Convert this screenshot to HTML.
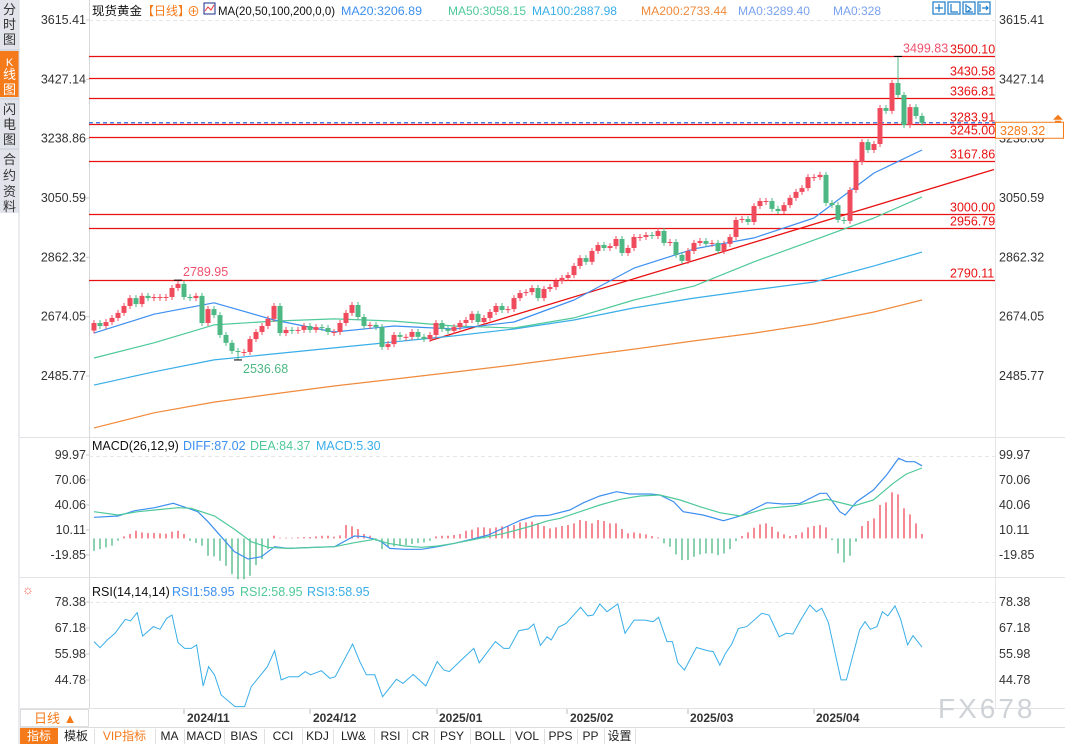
<!DOCTYPE html>
<html><head><meta charset="utf-8"><style>
html,body{margin:0;padding:0;background:#fff;}
body{width:1065px;height:744px;overflow:hidden;position:relative;font-family:"Liberation Sans","Noto Sans CJK SC",sans-serif;}
svg text{font-family:"Liberation Sans","Noto Sans CJK SC",sans-serif;}
.mono{font-family:"Liberation Mono","Noto Sans CJK SC",monospace;}
</style></head><body>
<svg id="chart" width="1065" height="744" xmlns="http://www.w3.org/2000/svg">
<g>
<rect x="0" y="0" width="19" height="213" fill="#e2e4ec"/>
<rect x="0" y="51" width="19" height="46" fill="#f57a1a"/>
<line x1="0" y1="50" x2="19" y2="50" stroke="#c9ccd6"/><line x1="0" y1="99" x2="19" y2="99" stroke="#c9ccd6"/><line x1="0" y1="149" x2="19" y2="149" stroke="#c9ccd6"/>
<line x1="19" y1="0" x2="19" y2="744" stroke="#d5d7de"/>
<g font-size="13" fill="#333" text-anchor="middle">
<text x="9.5" y="14">分</text><text x="9.5" y="29">时</text><text x="9.5" y="44">图</text>
<text x="9.5" y="66" fill="#fff" font-size="11">K</text><text x="9.5" y="79" fill="#fff">线</text><text x="9.5" y="94" fill="#fff">图</text>
<text x="9.5" y="114">闪</text><text x="9.5" y="129">电</text><text x="9.5" y="144">图</text>
<text x="9.5" y="164">合</text><text x="9.5" y="180">约</text><text x="9.5" y="196">资</text><text x="9.5" y="211">料</text>
</g></g>
<line x1="89.5" y1="0" x2="89.5" y2="708" stroke="#d8d8d8"/>
<line x1="995.5" y1="0" x2="995.5" y2="708" stroke="#e6e6e6"/>
<line x1="20" y1="437.5" x2="1065" y2="437.5" stroke="#e2e2e2"/>
<line x1="20" y1="577.5" x2="1065" y2="577.5" stroke="#e2e2e2"/>
<line x1="20" y1="708.5" x2="1065" y2="708.5" stroke="#e2e2e2"/>
<line x1="89" y1="20.5" x2="995" y2="20.5" stroke="#e6e6e6" stroke-dasharray="4,3"/>
<line x1="89" y1="456.5" x2="995" y2="456.5" stroke="#e6e6e6" stroke-dasharray="4,3"/>
<line x1="89" y1="602.5" x2="995" y2="602.5" stroke="#e6e6e6" stroke-dasharray="4,3"/>
<g font-size="12">
<text x="92" y="15" fill="#111" textLength="50" lengthAdjust="spacingAndGlyphs">现货黄金</text>
<text x="142" y="15" fill="#f57a1a">【日线】</text>
<text x="187" y="16" fill="#f57a1a" font-size="13">⊕</text>
<rect x="204" y="3" width="11" height="11" fill="#fff" stroke="#1a2a8a"/>
<polyline points="205,11 208,7 211,10 214,5" fill="none" stroke="#e33" stroke-width="1"/>
<text x="218" y="15" fill="#111" textLength="117" lengthAdjust="spacingAndGlyphs">MA(20,50,100,200,0,0)</text>
<text x="341" y="15" fill="#3d8ff0" textLength="81" lengthAdjust="spacingAndGlyphs">MA20:3206.89</text>
<text x="448" y="15" fill="#4fc99a" textLength="78" lengthAdjust="spacingAndGlyphs">MA50:3058.15</text>
<text x="532" y="15" fill="#39aee8" textLength="85" lengthAdjust="spacingAndGlyphs">MA100:2887.98</text>
<text x="641" y="15" fill="#f08a3c" textLength="86" lengthAdjust="spacingAndGlyphs">MA200:2733.44</text>
<text x="738" y="15" fill="#7aa2ef" textLength="72" lengthAdjust="spacingAndGlyphs">MA0:3289.40</text>
<text x="833" y="15" fill="#7aa2ef">MA0:328</text>
</g>
<g fill="none" stroke="#1d7cc8" stroke-width="1.2">
<rect x="933" y="2" width="12" height="12"/><rect x="948" y="2" width="12" height="12"/><rect x="963" y="2" width="12" height="12"/><rect x="978" y="2" width="12" height="12"/>
<path d="M939 4v8M935 8h8M951 4v8h7M966 4v8h7M967 6l4 3-4 3M980 4v8M982 8h6M986 6l2 2-2 2"/>
</g>
<g id="axes" font-size="12.5" fill="#333"></g>
<g id="levels"></g>
<g id="mas"></g>
<g id="candles"></g>
<g id="macd"></g>
<g id="rsi"></g>
<g font-size="12.5">
<text x="92" y="450" fill="#111">MACD(26,12,9)</text>
<text x="183" y="450" fill="#3d8ff0">DIFF:87.02</text>
<text x="250" y="450" fill="#4fc99a">DEA:84.37</text>
<text x="316" y="450" fill="#39aee8">MACD:5.30</text>
</g>
<text x="22" y="594" font-size="13" fill="#e65">☼</text>
<g font-size="12.5">
<text x="92" y="596" fill="#111">RSI(14,14,14)</text>
<text x="172" y="596" fill="#3d8ff0">RSI1:58.95</text>
<text x="240" y="596" fill="#4fc99a">RSI2:58.95</text>
<text x="307" y="596" fill="#39aee8">RSI3:58.95</text>
</g>
<g font-size="12" font-weight="bold" fill="#333">
<rect x="20.5" y="709.5" width="68" height="17" fill="#fff" stroke="#ddd"/>
<text x="34" y="723" fill="#f57a1a" font-weight="normal" font-size="13">日线 ▲</text>
<text x="187" y="722">2024/11</text><text x="313" y="722">2024/12</text><text x="439" y="722">2025/01</text>
<text x="570" y="722">2025/02</text><text x="690" y="722">2025/03</text><text x="816" y="722">2025/04</text>
<path d="M184 709v5M310 709v5M437 709v5M567 709v5M688 709v5M814 709v5" stroke="#bbb"/>
</g>
<text x="938" y="718" font-size="28" fill="#cfd3d8" letter-spacing="3">FX678</text>
<g font-size="11" class="mono">
<rect x="20" y="727" width="1045" height="17" fill="#fff"/>
<line x1="20" y1="727.5" x2="1065" y2="727.5" stroke="#ddd"/>
<rect x="20" y="728" width="38" height="16" fill="#f57a1a"/>
<text x="27" y="740" fill="#fff" font-size="12">指标</text>
<g id="tools" fill="#222"></g>
</g>
</svg>
<script>
const closes=[2654,2644.5,2657,2670,2686,2708,2733,2714,2740,2733,2736.5,2736.5,2736.5,2765,2778,2736.5,2733,2740,2654,2698,2679,2616,2591,2565,2562,2562,2603,2625.5,2644.5,2667,2708,2622,2632,2629,2632,2644.5,2632,2641,2638,2625.5,2625.5,2654,2686,2711,2673,2644.5,2648,2641,2578,2587,2616,2610,2610,2625.5,2610,2603,2616,2654,2635,2629,2641,2654,2663.5,2683,2657,2670,2689,2708,2695,2698,2733,2749,2752,2765,2733,2762,2768,2787,2797,2806,2835,2860,2848,2882.5,2901.5,2892,2898,2920.6,2876,2892,2927,2927,2933,2930,2946,2908,2911,2870,2851,2882.5,2908,2914,2905,2908,2882.5,2905,2927,2981,2984,2974.5,3025,3041,3041,3016,3009,3028,3051,3070,3082,3117,3117,3124,3035,3028,2981,2978,3076,3165,3228,3203,3222,3336,3327,3415.5,3377.5,3282,3339,3311,3289.32];
const opens0=2630;
const highMark=[134,3499.83], lowMark=[24,2536.68], peakMark=[14,2789.95];
const maIdx=[0,10,20,30,40,50,60,70,80,90,100,110,120,130,138];
const ma20=[2622,2682,2718,2663.5,2625.5,2644.5,2635,2657,2727,2828,2889,2924,2987,3130,3203];
const ma50=[2543,2591,2648,2660,2667,2660,2644.5,2638,2670,2727,2771,2848,2917,2987,3054];
const ma100=[2457,2499,2537,2556,2575,2594,2613,2635,2663.5,2702,2733,2759,2784,2835,2879];
const ma200=[2321,2369,2403,2429,2454,2476,2498,2521,2546,2571,2597,2622,2651,2689,2727];
const levels=[3500.10,3430.58,3366.81,3283.91,3245.00,3167.86,3000.00,2956.79,2790.11];
const levelLabels=["3500.10","3430.58","3366.81","3283.91","3245.00","3167.86","3000.00","2956.79","2790.11"];
const priceTicks=[3615.41,3427.14,3238.86,3050.59,2862.32,2674.05,2485.77];
const trendIdx=[56,150], trendVal=[2598,3141];
const hist=[-14.8,-12.8,-10.8,-8.8,-2.8,2.4,5.2,9.2,7.2,6.4,6.4,6,5.6,8,9.2,5.2,-2.8,-5.6,-8.8,-20.8,-21.6,-26.8,-32.8,-42.8,-48.8,-48.8,-44.8,-32,-24.8,-12.8,3.2,0.8,0.8,0.8,1.2,1.6,1.6,2.4,3.2,3.2,2,3.6,16,14.4,11.2,5.2,3.2,-2.8,-12.8,-10.8,-9.6,-8.8,-8,-6.8,-5.6,-4.8,-2.8,2.4,3.2,3.2,4,5.2,9.2,10.4,13.2,13.2,12,13.2,14.4,15.2,16,19.2,19.2,20,18.4,14.8,12,13.2,14.8,16,18,22,20.8,18,22,20.8,18,18,11.2,6,7.2,6,4.8,2.8,1.2,-6,-10,-19.2,-26,-26,-22,-19.2,-18,-18,-20,-18,-12.8,-3.2,2.8,7.2,12.8,16.8,18,14,8,4.8,2.8,4,7.2,13.2,14.8,16,13.2,-2,-18,-28.8,-20.8,-4,14.8,20.8,24,40,43.2,55.2,52.8,36,28.8,18,5.3];
const diffIdx=[0,4,6.8,10.1,13.2,15.7,17.3,19,21.2,23.4,25.7,27.9,30.1,32.3,36.8,40.1,43.4,45.1,46.8,47.9,49.3,51.8,54.6,57.3,60.1,62.9,65.7,69,71.2,73.4,75.7,79.3,81.6,84.3,87.1,89.3,92.7,94.3,96.6,98.2,101.5,104.9,107.7,112.1,114.9,117.7,121,122.1,124.3,125.2,127.1,129.9,132.1,134.1,135.4,136.8,138];
const diffVal=[25.3,26.8,33.2,36.8,42,36,32,20,2,-15.9,-24.7,-21.9,-9.9,-12,-10.7,-9.9,2.9,2,-1.1,-4,-12,-13.1,-13.1,-9.9,-5.9,-1.1,4.1,14.9,22,26.8,27.6,34,42.8,50.8,56,53.2,53.2,52,44,32,28,21.2,26.8,42.8,41.2,42,54,54,32,28,44,58,76,96,91.9,91.9,87.02];
const deaIdx=[0,4,7.3,10.1,14,16.2,20.1,23.4,26.2,29,32.3,40.1,43.4,46.8,49,51.8,54.6,57.3,60.1,62.9,68.4,72.9,75.7,77.7,81,84.3,87.7,91,94.3,97.7,101,104.3,107.7,112.1,116.5,122.1,126.6,129.9,133.2,135.4,138];
const deaVal=[32,28,32,34,36.8,36,26.8,10.9,-4,-10.7,-12,-9.9,-5.1,-1.1,-5.9,-9.1,-10.7,-9.1,-5.9,-1.9,6.1,14.9,21.2,24.1,32,40,46.8,50.8,52,46,38,30.8,26.8,36,38.8,46.8,38.8,46,66,77.2,84.37];
const macdTicks=[99.97,70.06,40.06,10.11,-19.85];
const rsiIdx=[0,1,2.2,3.5,5.2,6.1,7.2,8.1,9.9,11,12.1,13,14,15.1,16.2,17.1,18.2,19.1,20.1,21.2,23.5,25.1,26.2,28.9,30.1,31.2,32.5,34.1,35.2,36.1,37.9,39.3,40.2,43.1,44.3,45.4,46.8,48.1,50.4,51.5,53.2,55.3,57.2,58.3,59.2,61.5,63.3,64.2,66.9,68.3,69.2,70.8,72.4,73.3,74.4,75.5,76.2,77.4,78.7,81.1,82.3,83.2,84.3,85.5,87.3,88.5,90,91.8,93.2,94.1,95.5,96.4,97.3,98.4,100.4,102.3,103.2,104.3,105.2,106.3,107.4,108.8,111.3,112.5,114.2,115.4,116.5,117.7,119.3,120.4,121.3,122.4,124.5,125.4,127.6,128.5,129.4,130.5,131.4,132.3,133.5,134.4,135.6,136.5,138];
const rsiVal=[61.3,58.7,62,64.9,70.9,70.3,73.8,63.7,67.8,66.6,71.3,72.8,60.9,58.4,58.4,59.9,42.2,50.5,46.9,38.3,33.3,33.3,41.9,50.5,57.4,44.8,46.2,46.2,48.4,47,48.8,45.5,46.2,60.3,52.7,47,47,37.6,45.1,43.3,47.2,42.2,52.7,49.1,48.4,54.1,58.4,52.2,61.3,58.4,58.4,66,66.8,68.9,59.7,63.4,62,67.5,69.2,76.1,72.4,72.8,77.5,74.2,77.5,64.9,70.6,70.6,69.9,71.8,61.3,61.3,52.2,49.1,58.8,57.4,57,51.2,56,60.3,67,67.8,73.5,72.8,63.4,64.9,64.6,70.3,77.1,74.2,75.7,69.5,44.8,44.8,66.3,69.9,66.6,67.8,74.2,72.4,76.7,71.3,59.9,63.9,58.95];
const rsiTicks=[78.38,67.18,55.98,44.78];
const tools=["模板","VIP指标","MA","MACD","BIAS","CCI","KDJ","LW&","RSI","CR","PSY","BOLL","VOL","PPS","PP","设置"];

const NS="http://www.w3.org/2000/svg";
const xS=i=>94+6*i;
const yP=v=>20+(3615.41-v)*356/1129.64;
const yM=v=>538.4-v/1.198;
const yR=v=>602+(78.38-v)/0.4308;
function mk(tag,attrs,parent){const e=document.createElementNS(NS,tag);for(const k in attrs)e.setAttribute(k,attrs[k]);parent.appendChild(e);return e;}
const axes=document.getElementById('axes');
function tickLabels(ticks,yf,name){ticks.forEach(t=>{
 const l=mk('text',{x:86,y:yf(t)+4,'text-anchor':'end'},axes);l.textContent=t.toFixed(2);
 
 
 const r=mk('text',{x:999,y:yf(t)+4},axes);r.textContent=t.toFixed(2);
 
 
 mk('line',{x1:86,x2:90,y1:yf(t),y2:yf(t),stroke:'#ccc'},axes);
});}
tickLabels(priceTicks,yP,'price');tickLabels(macdTicks,yM,'macd');tickLabels(rsiTicks,yR,'rsi');

const lv=document.getElementById('levels');
levels.forEach((v,k)=>{const y=Math.round(yP(v))+0.5;
 const ln=mk('line',{x1:89,x2:995,y1:y,y2:y,stroke:'#e81010','stroke-width':1.2},lv);
 
 
 const t=mk('text',{x:950,y:y-3,fill:'#e81010','font-size':12.5},lv);t.textContent=levelLabels[k];
 
 
});
const cur=closes[closes.length-1];
const cy=yP(cur);
const cl=mk('line',{x1:89,x2:995,y1:cy,y2:cy,stroke:'#2a6fe0','stroke-dasharray':'4,3','stroke-width':1.3},lv);


const cb=mk('rect',{x:995.5,y:cy-0.5,width:68,height:16,fill:'#fff',stroke:'#f57a1a'},lv);


const ct=mk('text',{x:1000,y:cy+12,fill:'#f57a1a','font-size':12.5},lv);ct.textContent=cur.toFixed(2);
mk('path',{d:`M1053 ${cy-3}l5-5 5 5z M1055 ${cy-2}h6v2h-6z`,fill:'#f57a1a'},lv);
const tl=mk('line',{x1:xS(trendIdx[0]),y1:yP(trendVal[0]),x2:xS(trendIdx[1]),y2:yP(trendVal[1]),stroke:'#e81010','stroke-width':1.3},lv);



const mg=document.getElementById('mas');
[[ma200,'#f08a3c','ma200-line'],[ma100,'#39aee8','ma100-line'],[ma50,'#4fc99a','ma50-line'],[ma20,'#3d8ff0','ma20-line']].forEach(([arr,c,n])=>{
 const p=mk('polyline',{points:arr.map((v,k)=>xS(maIdx[k])+','+yP(v).toFixed(1)).join(' '),fill:'none',stroke:c,'stroke-width':1.2,'stroke-linejoin':'round'},mg);
 
 
});

const cg=document.getElementById('candles');
closes.forEach((c,i)=>{
 const o=i===0?opens0:closes[i-1];
 const up=c>=o;const col=up?'#ef4b5c':'#4db884';
 const x=xS(i);let top=yP(Math.max(o,c)),bot=yP(Math.min(o,c));
 if(bot-top<1){bot=top+1;}
 let hi=top-3,lo=bot+3;
 if(i===highMark[0])hi=yP(highMark[1]);
 if(i===lowMark[0])lo=yP(lowMark[1]);
 if(i===peakMark[0])hi=yP(peakMark[1]);
 mk('line',{x1:x,x2:x,y1:hi,y2:lo,stroke:col},cg);
 const r=mk('rect',{x:x-2.5,y:top,width:5,height:bot-top,fill:col},cg);
 
 
});
function note(txt,x,y,col,name){const t=mk('text',{x:x,y:y,fill:col,'font-size':12.5},cg);t.textContent=txt;
 
 }
note(highMark[1].toFixed(2),xS(highMark[0])+5,yP(highMark[1])-4,'#f0506e','high-label');
note(peakMark[1].toFixed(2),xS(peakMark[0])+5,yP(peakMark[1])-4,'#f0506e','peak-label');
note(lowMark[1].toFixed(2),xS(lowMark[0])+5,yP(lowMark[1])+13,'#4db884','low-label');
[[highMark],[peakMark],[lowMark]].forEach(([m])=>{const x=xS(m[0]),y=yP(m[1]);mk('path',{d:`M${x-4} ${y}h8`,stroke:'#000'},cg);});

const mc=document.getElementById('macd');
hist.forEach((v,i)=>{const x=xS(i);
 const b=mk('line',{x1:x,x2:x,y1:yM(0),y2:yM(v),stroke:v>=0?'#ef4b5c':'#4db884','stroke-width':1.3},mc);
 
 });
const dl=mk('polyline',{points:diffIdx.map((d,k)=>xS(d)+','+yM(diffVal[k]).toFixed(1)).join(' '),fill:'none',stroke:'#3d8ff0','stroke-width':1.2},mc);


const el=mk('polyline',{points:deaIdx.map((d,k)=>xS(d)+','+yM(deaVal[k]).toFixed(1)).join(' '),fill:'none',stroke:'#4fc99a','stroke-width':1.2},mc);



const rg=document.getElementById('rsi');
const rl=mk('polyline',{points:rsiIdx.map((d,k)=>xS(d)+','+yR(rsiVal[k]).toFixed(1)).join(' '),fill:'none',stroke:'#39aee8','stroke-width':1},rg);



const tg=document.getElementById('tools');
const tw=[36,61,29,40,40,38,31,41,33,27,36,40,34,33,27,31];
let tx=58;
tools.forEach((t,k)=>{
 const tt=mk('text',{x:tx+tw[k]/2,y:740,'text-anchor':'middle',fill:k===1?'#f57a1a':'#222','font-size':12},tg);tt.textContent=t;
 
 
 tx+=tw[k];
 mk('line',{x1:tx+0.5,x2:tx+0.5,y1:729,y2:744,stroke:'#e0e0e0'},tg);
});
</script>
</body></html>
